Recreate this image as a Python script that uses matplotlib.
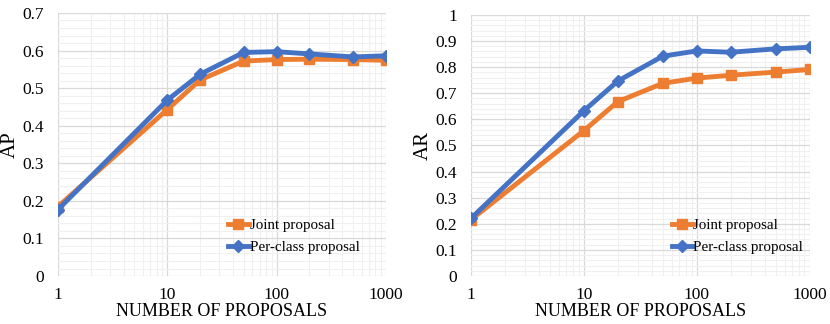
import matplotlib

matplotlib.use("Agg")
import matplotlib.pyplot as plt  # noqa: E402
from matplotlib.ticker import MultipleLocator, LogLocator, FixedLocator  # noqa: E402

plt.rcParams["font.family"] = "serif"
plt.rcParams["font.serif"] = ["Liberation Serif", "DejaVu Serif"]

proposals = [1, 10, 20, 50, 100, 200, 500, 1000]
joint_ap = [0.185, 0.443, 0.522, 0.572, 0.576, 0.577, 0.576, 0.574]
perclass_ap = [0.177, 0.468, 0.537, 0.595, 0.597, 0.591, 0.583, 0.586]
joint_ar = [0.216, 0.557, 0.668, 0.738, 0.758, 0.769, 0.781, 0.791]
perclass_ar = [0.221, 0.633, 0.747, 0.842, 0.862, 0.857, 0.870, 0.876]
x_ticks = [1, 10, 100, 1000]

ORANGE = "#ED7D31"
BLUE = "#4472C4"

fig = plt.figure(figsize=(8.3, 3.24), dpi=100)
ax1 = fig.add_axes([0.0699, 0.148, 0.395, 0.812])
ax2 = fig.add_axes([0.5675, 0.148, 0.408, 0.806])


def style(ax, joint, perclass, ylabel, ymax, legend_anchor):
    ax.plot(proposals, joint, "-s", color=ORANGE, lw=3.5, ms=7, label="Joint proposal")
    ax.plot(proposals, perclass, "-D", color=BLUE, lw=3.5, ms=6.5, label="Per-class proposal")
    ax.set_xscale("log")
    ax.set_xlim(1, 1000)
    ax.set_ylim(0, ymax)
    ax.xaxis.set_major_locator(FixedLocator(x_ticks))
    ax.set_xticklabels([str(t) for t in x_ticks])
    ax.xaxis.set_minor_locator(LogLocator(base=10, subs=range(2, 10)))
    ax.yaxis.set_major_locator(MultipleLocator(0.1))
    ax.yaxis.set_minor_locator(MultipleLocator(0.02))
    ax.yaxis.set_major_formatter(lambda v, p: "0" if abs(v) < 1e-9 else ("1" if abs(v - 1) < 1e-9 else f"{v:.1f}"))
    ax.grid(which="major", color="#d9d9d9", lw=0.9)
    ax.grid(which="minor", color="#f0f0f0", lw=0.8)
    ax.set_axisbelow(True)
    for s in ax.spines.values():
        s.set_visible(False)
    ax.tick_params(which="both", length=0, labelsize=12.5)
    ax.tick_params(axis="y", pad=10)
    ax.tick_params(axis="x", pad=8)
    ax.set_xlabel("NUMBER OF PROPOSALS", fontsize=13, labelpad=0)
    ax.set_ylabel(ylabel, fontsize=15, labelpad=2)
    ax.legend(loc="lower left", bbox_to_anchor=legend_anchor, frameon=False, fontsize=10.8,
              handlelength=1.4, handletextpad=0.05, labelspacing=0.6, borderaxespad=0)


style(ax1, joint_ap, perclass_ap, "AP", 0.7, (0.5, 0.06))
style(ax2, joint_ar, perclass_ar, "AR", 1.0, (0.575, 0.06))

fig.savefig("out.png", dpi=100)
